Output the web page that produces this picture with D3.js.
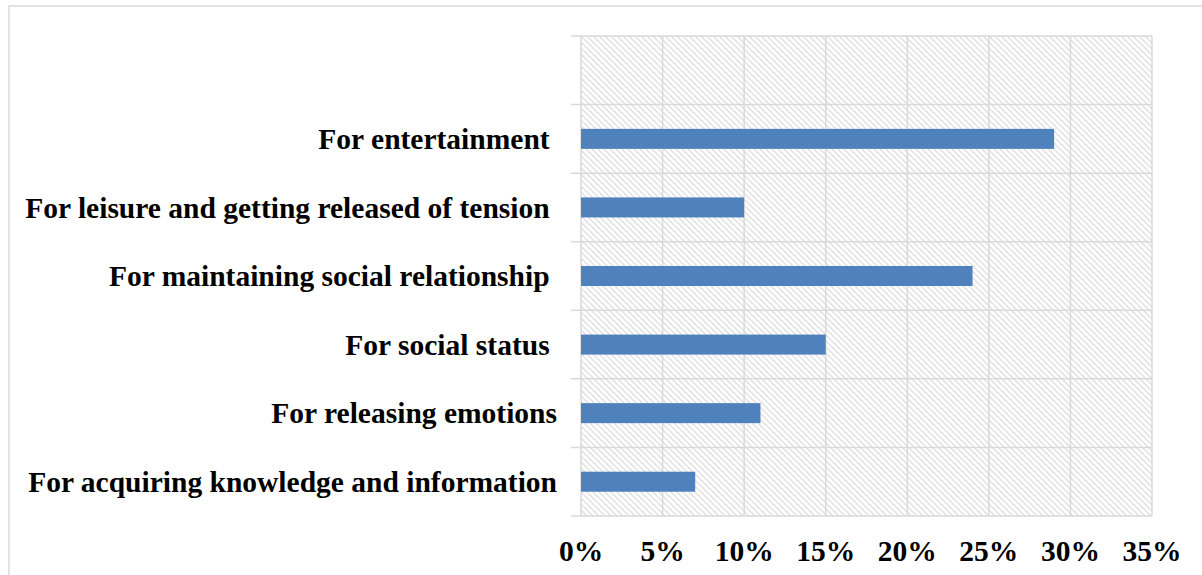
<!DOCTYPE html>
<html>
<head>
<meta charset="utf-8">
<script src="https://cdn.jsdelivr.net/npm/d3@7"></script>
<style>
  body { margin: 0; background: #fff; }
  svg text { font-family: "Liberation Serif", "Times New Roman", serif; font-weight: bold; white-space: pre; }
</style>
</head>
<body>
<svg></svg>
<script>
// categories bottom to top, first slot is empty like the original
const categories = [
  "For acquiring knowledge and information",
  "For releasing emotions",
  "For social status ",
  "For maintaining social relationship ",
  "For leisure and getting released of tension ",
  "For entertainment ",
  ""
];
const values = [7, 11, 15, 24, 10, 29, null];
const xTicks = [0, 5, 10, 15, 20, 25, 30, 35];

const svgWidth = 1202;
const svgHeight = 575;
const margin = {top: 36, left: 581, right: 50, bottom: 59};
const width = svgWidth - margin.left - margin.right;
const height = svgHeight - margin.top - margin.bottom;

const svg = d3.select("svg")
  .attr("width", svgWidth)
  .attr("height", svgHeight);

// hatch pattern for plot background
const defs = svg.append("defs");
const pat = defs.append("pattern")
  .attr("id", "hatch")
  .attr("patternUnits", "userSpaceOnUse")
  .attr("width", 6)
  .attr("height", 6);
pat.append("rect").attr("width", 6).attr("height", 6).attr("fill", "#fff");
pat.append("path")
  .attr("d", "M-1,-1 L7,7 M-4,2 L2,8 M4,-2 L8,2")
  .attr("stroke", "#dedede")
  .attr("stroke-width", 1.3);

// outer chart border
svg.append("rect")
  .attr("x", 9).attr("y", 6)
  .attr("width", 1300).attr("height", 700)
  .attr("fill", "none")
  .attr("stroke", "#d9d9d9")
  .attr("stroke-width", 1.5);

const g = svg.append("g").attr("transform", `translate(${margin.left},${margin.top})`);

const x = d3.scaleLinear().domain([0, 35]).range([0, width]);
const y = d3.scaleBand().domain(d3.range(categories.length).reverse()).range([0, height]);

g.append("rect")
  .attr("width", width).attr("height", height)
  .attr("fill", "url(#hatch)");

// vertical grid
g.selectAll(".vgrid")
  .data(xTicks)
  .join("line")
  .attr("x1", d => x(d)).attr("x2", d => x(d))
  .attr("y1", 0).attr("y2", height)
  .attr("stroke", "#d9d9d9").attr("stroke-width", 1.5);

// horizontal grid at band edges, with small ticks out to the left
const edges = d3.range(categories.length + 1).map(i => i * y.step());
g.selectAll(".hgrid")
  .data(edges)
  .join("line")
  .attr("x1", -10).attr("x2", width)
  .attr("y1", d => d).attr("y2", d => d)
  .attr("stroke", "#d9d9d9").attr("stroke-width", 1.5);

// bars
const barH = 20;
g.selectAll(".bar")
  .data(values.map((v, i) => ({v, i})).filter(d => d.v != null))
  .join("rect")
  .attr("x", x(0))
  .attr("y", d => y(d.i) + y.bandwidth() / 2 - barH / 2)
  .attr("width", d => x(d.v))
  .attr("height", barH)
  .attr("fill", "#4f81bd");

// category labels
g.selectAll(".cat")
  .data(categories)
  .join("text")
  .attr("x", -24)
  .attr("y", (d, i) => y(i) + y.bandwidth() / 2)
  .attr("dy", "0.35em")
  .attr("text-anchor", "end")
  .attr("font-size", 29.5)
  .attr("fill", "#000")
  .text(d => d);

// x tick labels
g.selectAll(".xt")
  .data(xTicks)
  .join("text")
  .attr("x", d => x(d))
  .attr("y", height + 45)
  .attr("text-anchor", "middle")
  .attr("font-size", 29.5)
  .attr("fill", "#000")
  .text(d => d + "%");
</script>
</body>
</html>
